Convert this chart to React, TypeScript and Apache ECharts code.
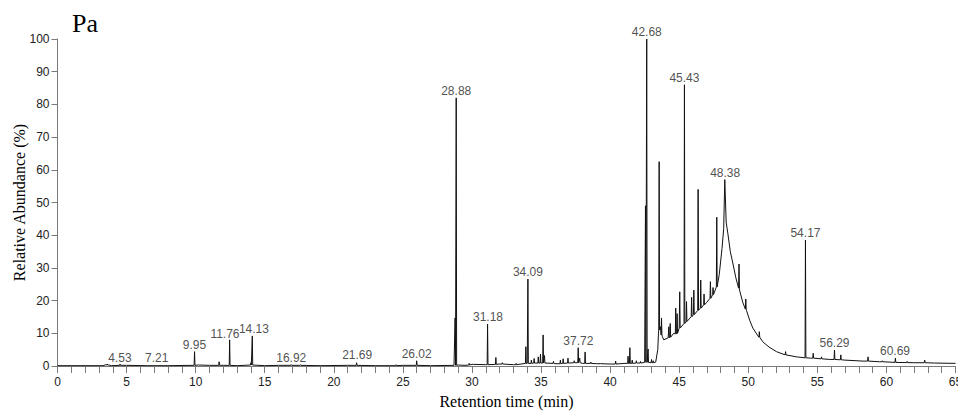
import React, { useEffect, useRef } from "react";
import * as echarts from "echarts";

// Background / baseline profile of the chromatogram: [time (min), relative abundance (%)]
const profile: number[][] = [
  [0, 0.1], [3.3, 0.1], [3.5, 0.4], [3.7, 0.3], [3.9, 0.1], [5, 0.2], [6.5, 0.1], [8, 0.1],
  [9.8, 0.2], [10.2, 0.3], [11, 0.2], [12, 0.2], [13, 0.1], [14, 0.3], [15, 0.1], [16, 0.2],
  [17.5, 0.2], [19, 0.1], [21, 0.2], [23, 0.1], [25, 0.2], [27, 0.1], [28.7, 0.2], [29, 0.3],
  [29.5, 0.2], [30, 0.5], [31, 0.4], [32, 0.6], [33, 0.4], [34, 0.8], [35, 0.9], [36, 0.7],
  [37, 1.0], [38, 0.8], [39, 0.7], [40, 0.6], [41, 0.8], [42, 0.9], [42.5, 1.1], [43, 1.0],
  [43.3, 1.2], [43.45, 5], [43.5, 10], [43.65, 12], [43.78, 9], [43.88, 8], [44.2, 8.6],
  [44.6, 10], [45, 11.6], [45.5, 13.5], [46, 15.5], [46.5, 17.5], [47, 19.5], [47.5, 22],
  [47.7, 24], [47.9, 28], [48.1, 36], [48.22, 42], [48.3, 57], [48.4, 44], [48.52, 40.6],
  [48.7, 35], [48.88, 31.5], [49.1, 27], [49.38, 23], [49.6, 19.5], [49.87, 17], [50.1, 14],
  [50.33, 11.6], [50.7, 9.2], [51.05, 7.4], [51.5, 5.8], [52.04, 4.4], [52.7, 3.4],
  [53.49, 2.8], [54.5, 2.4], [55.9, 2.0], [57, 1.8], [58.3, 1.5], [59.5, 1.3], [60.7, 1.1],
  [62, 1.0], [63.5, 0.9], [65, 0.8],
];

// Sharp peaks: [time (min), apex abundance (%), local baseline (%)]
const peaks: number[][] = [
  [3.6, 0.6, 0.3], [4.53, 0.6, 0.2], [7.21, 0.3, 0.1], [9.92, 4.4, 0.2], [11.7, 1.3, 0.2],
  [12.46, 8.0, 0.2], [14.0, 1.0, 0.3], [14.1, 9.2, 0.3], [16.92, 0.4, 0.2], [17.6, 0.4, 0.2],
  [21.65, 1.0, 0.2], [24.5, 0.4, 0.1], [26.0, 1.6, 0.2], [28.78, 14.7, 0.2], [28.86, 82, 0.2],
  [29.8, 0.8, 0.3], [30.1, 0.6, 0.5], [31.13, 12.8, 0.4], [31.73, 2.6, 0.5], [32.2, 1.0, 0.6],
  [33.2, 0.8, 0.4], [33.9, 5.9, 0.8], [34.05, 26.6, 0.8], [34.3, 1.8, 0.8], [34.5, 2.3, 0.9],
  [34.8, 2.8, 0.9], [34.96, 3.6, 0.9], [35.15, 9.5, 0.9], [35.25, 3.2, 0.9], [35.9, 1.4, 0.8],
  [36.4, 1.8, 0.7], [36.6, 2.2, 0.8], [36.95, 2.4, 0.9], [37.4, 1.6, 1.0], [37.69, 5.6, 1.0],
  [37.8, 2.4, 1.0], [38.19, 4.3, 0.8], [38.6, 1.2, 0.8], [39.3, 0.9, 0.7], [40.4, 1.5, 0.6],
  [41.3, 3.0, 0.8], [41.43, 5.6, 0.8], [41.6, 1.8, 0.8], [41.9, 1.6, 0.9], [42.2, 1.4, 0.9],
  [42.56, 49, 1.1], [42.65, 100, 1.1], [42.75, 5.2, 1.1], [43.0, 2.0, 1.0], [43.12, 1.6, 1.0],
  [43.55, 62.5, 11], [43.72, 14.7, 9.5], [44.25, 12, 8.6], [44.35, 13, 8.8], [44.75, 17.7, 9.8],
  [44.85, 16, 10], [45.04, 22.7, 11.6], [45.38, 86, 13], [45.53, 19.7, 13.6], [45.9, 21, 15.1],
  [46.06, 23.2, 15.7], [46.37, 54, 17], [46.56, 26.3, 17.7], [46.8, 22, 18.7], [47.26, 25.8, 20.7],
  [47.45, 24, 21.8], [47.72, 45.5, 24.2], [49.33, 31.2, 23.8], [49.82, 20.5, 17.4],
  [50.8, 10.5, 8.8], [52.7, 4.4, 3.4], [54.14, 38.5, 2.5], [54.7, 3.9, 2.4], [55.3, 2.8, 2.2],
  [56.24, 4.9, 2.0], [56.7, 3.4, 1.9], [58.67, 2.8, 1.5], [59.7, 1.6, 1.3], [60.65, 2.4, 1.1],
  [61.5, 1.4, 1.05], [62.77, 1.8, 1.0],
];

// Peak annotations: text, anchor time (min), anchor abundance (%)
const labelTexts = ["4.53", "7.21", "9.95", "11.76", "14.13", "16.92", "21.69", "26.02", "28.88",
  "31.18", "34.09", "37.72", "42.68", "45.43", "48.38", "54.17", "56.29", "60.69"];
const labelTimes = [4.52, 7.18, 9.91, 12.12, 14.22, 16.92, 21.69, 26.0, 28.86,
  31.16, 34.05, 37.7, 42.65, 45.38, 48.33, 54.14, 56.24, 60.62];
const labelValues = [0.3, 0.2, 4.4, 7.6, 9.2, 0.3, 1.1, 1.6, 82,
  12.8, 26.6, 5.6, 100, 86, 57, 38.5, 4.9, 2.4];

const yTicks = [0, 10, 20, 30, 40, 50, 60, 70, 80, 90, 100];
const xTicks = [0, 5, 10, 15, 20, 25, 30, 35, 40, 45, 50, 55, 60, 65];

const SANS = '"Liberation Sans", Arial, sans-serif';
const SERIF = '"Liberation Serif", "Times New Roman", serif';

function buildTrace(): number[][] {
  const half = 0.03;
  const pts: number[][] = profile.map((p) => [p[0], p[1]]);
  peaks.forEach(([t, h, b]) => {
    pts.push([t - half, b], [t, h], [t + half, b]);
  });
  pts.sort((a, b) => a[0] - b[0]);
  return pts;
}

export default function App() {
  const ref = useRef<HTMLDivElement>(null);
  useEffect(() => {
    if (!ref.current) return;
    const chart = echarts.init(ref.current, undefined, { renderer: "svg" });
    const axisColor = "#7a7a7a";
    chart.setOption({
      animation: false,
      backgroundColor: "#ffffff",
      title: {
        text: "Pa",
        left: 72,
        top: 10,
        padding: 0,
        textStyle: { fontFamily: SERIF, fontSize: 26, fontWeight: "normal", color: "#000" },
      },
      grid: {
        left: 57.5,
        right: 2.5,
        top: 39,
        bottom: 45,
        containLabel: false,
        outerBoundsMode: "none",
      },
      xAxis: {
        type: "value",
        min: xTicks[0],
        max: xTicks[xTicks.length - 1],
        interval: 5,
        name: "Retention time (min)",
        nameLocation: "middle",
        nameGap: 27,
        nameMoveOverlap: false,
        nameTextStyle: { fontFamily: SERIF, fontSize: 16, color: "#000" },
        axisLine: { show: true, lineStyle: { color: axisColor, width: 1 } },
        axisTick: { show: true, length: 7, lineStyle: { color: axisColor } },
        minorTick: { show: true, splitNumber: 5, length: 7, lineStyle: { color: axisColor } },
        axisLabel: { fontFamily: SANS, fontSize: 12, color: "#222", margin: 10 },
        splitLine: { show: false },
      },
      yAxis: {
        type: "value",
        min: yTicks[0],
        max: yTicks[yTicks.length - 1],
        interval: 10,
        name: "Relative Abundance (%)",
        nameLocation: "middle",
        nameRotate: 90,
        nameGap: 30,
        nameMoveOverlap: false,
        nameTextStyle: { fontFamily: SERIF, fontSize: 16, color: "#000" },
        axisLine: { show: true, lineStyle: { color: axisColor, width: 1 } },
        axisTick: { show: true, length: 6, lineStyle: { color: axisColor } },
        axisLabel: { fontFamily: SANS, fontSize: 12, color: "#222", margin: 8 },
        splitLine: { show: false },
      },
      series: [
        {
          type: "line",
          data: buildTrace(),
          showSymbol: false,
          symbol: "none",
          lineStyle: { color: "#111", width: 1 },
          clip: true,
          z: 2,
        },
        {
          type: "scatter",
          data: labelTexts.map((txt, i) => ({ name: txt, value: [labelTimes[i], labelValues[i]] })),
          symbolSize: 0,
          clip: false,
          silent: true,
          label: {
            show: true,
            position: "top",
            distance: 1,
            formatter: (p: any) => p.name,
            fontFamily: SANS,
            fontSize: 12,
            color: "#222",
          },
          z: 3,
        },
      ],
    });
    return () => chart.dispose();
  }, []);
  return (
    <div
      ref={ref}
      style={{ position: "fixed", left: 0, top: 0, width: 958, height: 411, background: "#fff" }}
    />
  );
}
